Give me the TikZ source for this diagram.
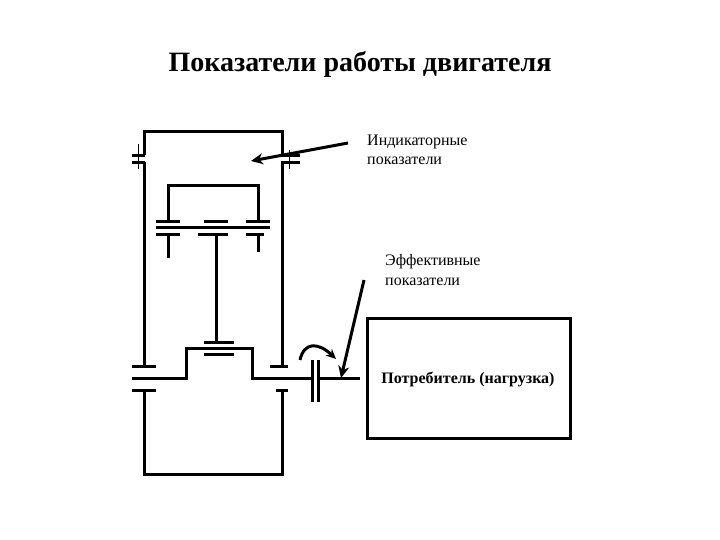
\documentclass[tikz,border=0pt]{standalone}
\usepackage{fontspec}
\setmainfont{Liberation Serif}
\usetikzlibrary{arrows.meta}
\tikzset{
  wire/.style={line width=3pt,line join=miter,line cap=butt},
  thin wire/.style={line width=1pt},
  pointer/.style={line width=3pt,-{Stealth[length=12pt,width=11pt]}},
  label text/.style={anchor=west,align=left,font=\fontsize{16}{19.5}\selectfont,inner sep=0pt},
}
\begin{document}
\begin{tikzpicture}[x=1pt,y=-1pt]
\useasboundingbox (0,0) rectangle (720,540);
\fill[white] (0,0) rectangle (720,540);
% frame
\draw[wire] (144,155) -- (144,132) -- (282,132) -- (282,155);
\draw[wire] (144,162) -- (144,366);
\draw[wire] (282,162) -- (282,366);
\draw[wire] (132,155.5) -- (145,155.5) (132,162.5) -- (145,162.5);
\draw[wire] (281,155.5) -- (300,155.5) (281,162.5) -- (300,162.5);
\draw[thin wire] (138,144) -- (138,169) (289,150) -- (289,169);
% upper mechanism
\draw[wire] (168,222) -- (168,186) -- (258,186) -- (258,222);
\draw[wire] (156,222) -- (180,222) (204,222) -- (228,222) (246,222) -- (270,222);
\draw[wire] (156,228) -- (270,228);
\draw[wire] (156,234) -- (180,234) (198,234) -- (228,234) (246,234) -- (264,234);
\draw[wire] (168,234) -- (168,258) (258,234) -- (258,252);
\draw[wire] (216,234) -- (216,342);
% crank
\draw[wire] (204,342) -- (234,342) (204,354) -- (234,354);
\draw[wire] (132,378) -- (186,378) -- (186,348) -- (252,348) -- (252,378) -- (312,378);
\draw[wire] (132,366) -- (156,366) (132,390) -- (156,390);
\draw[wire] (270,366) -- (288,366) (276,390) -- (288,390);
% crankcase
\draw[wire] (144,390) -- (144,474) -- (282,474) -- (282,390);
% coupling
\draw[wire] (312,360) -- (312,402) (318,360) -- (318,402);
\draw[wire] (318,378) -- (360,378);
% load
\node[draw,line width=3pt,minimum width=203pt,minimum height=120pt,inner sep=0pt,outer sep=0pt] (load) at (469,378) {};
\node[anchor=center,font=\bfseries\fontsize{16}{18}\selectfont,inner sep=0pt] (loadtext) at (468,379) {Потребитель (нагрузка)};
% title and labels
\node[font=\bfseries\fontsize{28}{32}\selectfont,inner sep=0pt] (title) at (360,64) {Показатели работы двигателя};
\node[label text] (ind) at (367,150) {Индикаторные\\показатели};
\node[label text] (eff) at (385,270) {Эффективные\\показатели};
% arrows
\coordinate (a1) at (348,143);
\coordinate (a1e) at (251,161);
\coordinate (a2) at (364,280);
\coordinate (a2e) at (341,378);
\draw[pointer] (a1) -- (a1e);
\draw[pointer] (a2) -- (a2e);
\coordinate (c1) at (300,360);
\coordinate (c2) at (336,359);
\draw[line width=3pt,-{Stealth[length=10pt,width=9pt]}] (c1) .. controls (304,342) and (318,342) .. (c2);
\end{tikzpicture}
\end{document}
